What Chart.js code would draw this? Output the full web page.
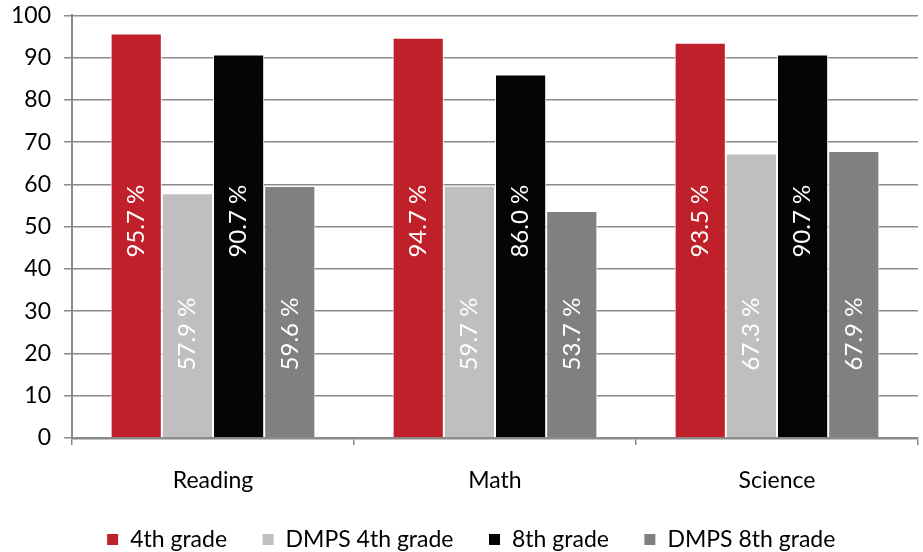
<!DOCTYPE html>
<html lang="en">
<head>
    <meta charset="UTF-8">
    <title>Reading, Math, Science</title>
    <style>
        html, body {
            margin: 0;
            padding: 0;
            background: #fff;
        }
        #wrap {
            width: 923px;
            height: 552px;
        }
    </style>
    <script src="https://cdn.jsdelivr.net/npm/chart.js"></script>
</head>
<body>
    <div id="wrap"><canvas id="graph"></canvas></div>

    <script>
        const subjects = ['Reading', 'Math', 'Science'];
        const grade4 = [95.7, 94.7, 93.5];
        const dmps4 = [57.9, 59.7, 67.3];
        const grade8 = [90.7, 86.0, 90.7];
        const dmps8 = [59.6, 53.7, 67.9];
        const yTicks = [0, 10, 20, 30, 40, 50, 60, 70, 80, 90, 100];

        const gridGray = '#8a8a8a';
        const font = 'Lato';

        // white rotated percentages inside the bars
        const barLabels = {
            id: 'barLabels',
            afterDatasetsDraw(chart) {
                const ctx = chart.ctx;
                const y = chart.scales.y;
                ctx.save();
                ctx.fillStyle = '#fff';
                ctx.font = '24px ' + font;
                ctx.textAlign = 'center';
                ctx.textBaseline = 'middle';
                chart.data.datasets.forEach((ds, i) => {
                    chart.getDatasetMeta(i).data.forEach((bar, j) => {
                        ctx.save();
                        ctx.translate(bar.x, y.getPixelForValue(ds.labelAt));
                        ctx.rotate(-Math.PI / 2);
                        ctx.fillText(ds.data[j].toFixed(1) + ' %', 0, 0);
                        ctx.restore();
                    });
                });
                ctx.restore();
            }
        };

        // the legend sits a little right of centre in the original
        const legendShift = {
            id: 'legendShift',
            afterLayout(chart) {
                chart.legend.left += 12;
                chart.legend.right += 12;
            }
        };

        const makeSet = (label, data, color, labelAt) => ({
            label: label,
            data: data,
            backgroundColor: color,
            borderColor: '#fff',
            borderWidth: 1,
            borderSkipped: 'start',
            labelAt: labelAt
        });

        new Chart(document.getElementById('graph'), {
            type: 'bar',
            data: {
                labels: subjects,
                datasets: [
                    makeSet('4th grade', grade4, '#c0202a', 51.3),
                    makeSet('DMPS 4th grade', dmps4, '#bfbfbf', 24.6),
                    makeSet('8th grade', grade8, '#050505', 51.3),
                    makeSet('DMPS 8th grade', dmps8, '#808080', 24.6)
                ]
            },
            options: {
                responsive: true,
                maintainAspectRatio: false,
                animation: false,
                datasets: {
                    bar: { categoryPercentage: 0.726, barPercentage: 1 }
                },
                // legend keeps spare room under its row; push that off the canvas
                layout: { padding: { left: 0, right: 5, top: 0, bottom: -9 } },
                plugins: {
                    legend: {
                        position: 'bottom',
                        labels: {
                            boxWidth: 12,
                            boxHeight: 12,
                            padding: 35,
                            color: '#000',
                            font: { family: font, size: 23 }
                        }
                    },
                    tooltip: { enabled: false }
                },
                scales: {
                    x: {
                        afterFit(scale) {
                            scale.height -= 23.6; // drop the padding under the labels
                        },
                        grid: {
                            offset: true,
                            drawOnChartArea: false,
                            drawTicks: true,
                            tickLength: 7,
                            color: gridGray,
                            lineWidth: 1.5
                        },
                        border: { color: gridGray, width: 2.5 },
                        ticks: {
                            color: '#000',
                            padding: 22,
                            font: { family: font, size: 23 }
                        }
                    },
                    y: {
                        min: 0,
                        max: 100,
                        afterBuildTicks(axis) {
                            axis.ticks = yTicks.map(v => ({ value: v }));
                        },
                        afterFit(scale) {
                            scale.width = 72;
                        },
                        grid: {
                            color: gridGray,
                            lineWidth: 1.5,
                            tickLength: 8
                        },
                        border: { color: gridGray, width: 2 },
                        ticks: {
                            color: '#000',
                            padding: 13,
                            font: { family: font, size: 23, lineHeight: 0.2 }
                        }
                    }
                }
            },
            plugins: [barLabels, legendShift]
        });
    </script>
</body>
</html>
